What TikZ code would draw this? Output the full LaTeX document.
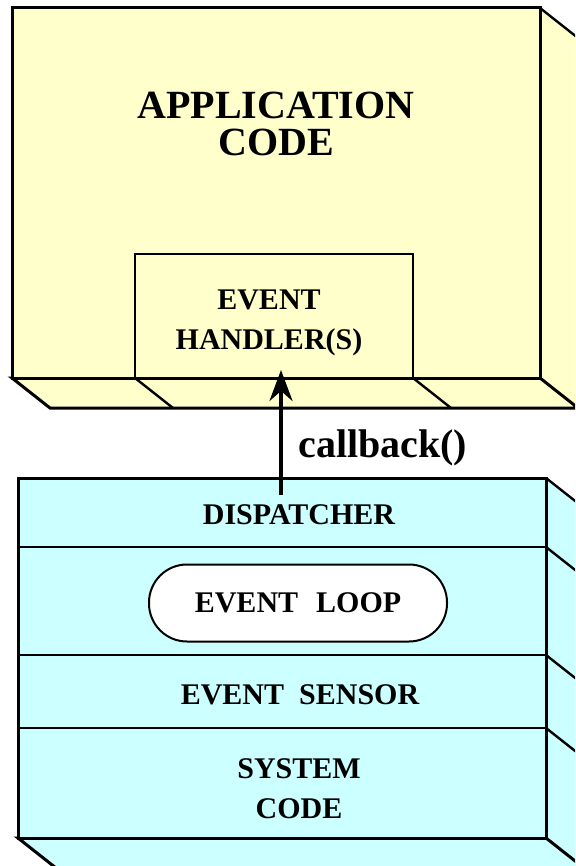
\documentclass[tikz,border=0pt]{standalone}
\usepackage{fontspec}
\setmainfont{Liberation Serif}
\usetikzlibrary{arrows.meta}
\definecolor{appyellow}{HTML}{FFFFCC}
\definecolor{syscyan}{HTML}{CCFFFF}
\newlength{\px}
\setlength{\px}{0.5pt}

\begin{document}
\begin{tikzpicture}[x = \px, y = -\px,
    face/.style = {draw = black, line width = 3\px},
    edge/.style = {draw = black, line width = 2.4\px},
    divider/.style = {draw = black, line width = 2\px},
    boxtext/.style = {font = \bfseries\fontsize{15}{20}\selectfont, align = center, inner sep = 0pt}]
  \useasboundingbox (0, 0) rectangle (575, 866);
  \clip (0, 0) rectangle (575, 866);

  \fill[appyellow] (540, 8) -- (578, 38) -- (578, 408) -- (540, 378) -- cycle;
  \filldraw[fill = appyellow, face] (12, 378) -- (50, 408) -- (578, 408) -- (540, 378) -- cycle;
  \draw[edge] (540, 8) -- (578, 38);
  \draw[edge] (135, 378) -- (173, 408);
  \draw[edge] (413, 378) -- (451, 408);
  \filldraw[fill = appyellow, face] (12, 8) rectangle (540, 378);

  \node[boxtext, font = \bfseries\fontsize{20}{18.5}\selectfont] (appcode)
    at (276, 124) {APPLICATION\\CODE};
  \node[draw, line width = 2\px, minimum width = 278\px, minimum height = 124\px, inner sep = 0pt] (handler)
    at (274, 316) {};
  \node[boxtext] (handlertext) at (269, 323) {EVENT\\HANDLER(S)};

  \fill[syscyan] (546, 478) -- (584, 508) -- (584, 868) -- (546, 838) -- cycle;
  \filldraw[fill = syscyan, face] (18, 838) -- (56, 868) -- (584, 868) -- (546, 838) -- cycle;
  \foreach \y in {478, 547, 655, 728}
    \draw[edge] (546, \y) -- (584, \y + 30);
  \filldraw[fill = syscyan, face] (18, 478) rectangle (546, 838);
  \foreach \y in {547, 655, 728}
    \draw[divider] (18, \y) -- (546, \y);

  \node[boxtext] (dispatcher) at (299, 515) {DISPATCHER};
  \node[boxtext, draw, fill = white, line width = 2\px, rounded corners = 38\px,
    minimum width = 298\px, minimum height = 77\px] (loop)
    at (298, 603) {EVENT\hspace{0.6em}LOOP};
  \node[boxtext] (sensor) at (300, 695) {EVENT\hspace{0.5em}SENSOR};
  \node[boxtext] (syscode) at (299, 789) {SYSTEM\\CODE};

  \coordinate (cbstart) at (281, 495);
  \draw[line width = 4\px, -{Stealth[length = 15.5pt, width = 11.5pt]}, shorten > = -9\px]
    (cbstart) -- (cbstart |- handler.south);
  \node[font = \bfseries\fontsize{20}{24}\selectfont, anchor = base west, inner sep = 0pt] (callback)
    at (298, 457) {callback()};
\end{tikzpicture}
\end{document}
